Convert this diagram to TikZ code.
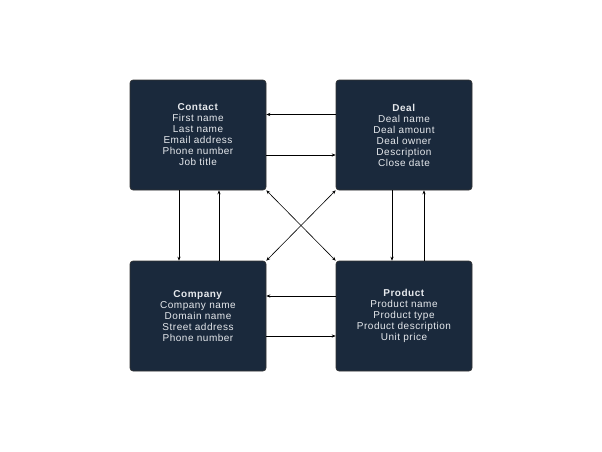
\documentclass[tikz,border=0pt]{standalone}
\usepackage{fontspec}
\setmainfont{Liberation Sans}[LetterSpace=5]
\usetikzlibrary{arrows.meta}
\definecolor{boxfill}{HTML}{1A293C}
\definecolor{boxtext}{HTML}{E6E9ED}
\begin{document}
\begin{tikzpicture}[x=1pt,y=-1pt,
  entity/.style={draw=black!80,line width=0.6pt,fill=boxfill,rounded corners=3pt,
    minimum width=136pt,minimum height=110pt,inner sep=0pt,text=boxtext,
    align=center,font=\fontsize{10}{11}\selectfont},
  link/.style={line width=0.6pt,-{Stealth[length=4pt,width=3.2pt]}},
  dlink/.style={line width=0.6pt,{Stealth[length=4pt,width=3.2pt]}-{Stealth[length=4pt,width=3.2pt]}}]
\useasboundingbox (0,0) rectangle (602,451);
\node[entity] (contact) at (198,135) {\textbf{Contact}\\First name\\Last name\\Email address\\Phone number\\Job title};
\node[entity] (deal) at (404,135) {\textbf{Deal}\\Deal name\\Deal amount\\Deal owner\\Description\\Close date};
\node[entity] (company) at (198,316) {\textbf{Company}\\Company name\\Domain name\\Street address\\Phone number};
\node[entity] (product) at (404,316) {\textbf{Product}\\Product name\\Product type\\Product description\\Unit price};
% horizontal
\draw[link] (deal.west |- 0,114.5) -- (contact.east |- 0,114.5);
\draw[link] (contact.east |- 0,155) -- (deal.west |- 0,155);
\draw[link] (product.west |- 0,296) -- (company.east |- 0,296);
\draw[link] (company.east |- 0,336) -- (product.west |- 0,336);
% vertical
\draw[link] (contact.south -| 179,0) -- (company.north -| 179,0);
\draw[link] (company.north -| 219,0) -- (contact.south -| 219,0);
\draw[link] (deal.south -| 392,0) -- (product.north -| 392,0);
\draw[link] (product.north -| 424,0) -- (deal.south -| 424,0);
% diagonals
\draw[dlink] (contact.south east) -- (product.north west);
\draw[dlink] (deal.south west) -- (company.north east);
\end{tikzpicture}
\end{document}
